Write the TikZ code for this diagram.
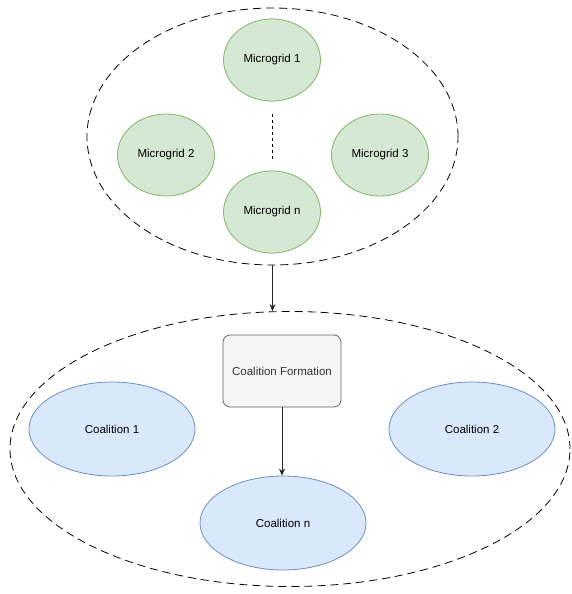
\documentclass[tikz,border=0pt]{standalone}
\usepackage{fontspec}
\setmainfont{Liberation Sans}
\usetikzlibrary{arrows.meta,shapes.geometric}
\definecolor{mgfill}{HTML}{D5E8D4}
\definecolor{mgdraw}{HTML}{82B366}
\definecolor{cofill}{HTML}{DAE8FC}
\definecolor{codraw}{HTML}{6C8EBF}
\definecolor{bxfill}{HTML}{F5F5F5}
\definecolor{bxdraw}{HTML}{666666}
\definecolor{bxtext}{HTML}{333333}
\tikzset{
  lbl/.style={font=\fontsize{11.5}{13}\selectfont},
  mg/.style={ellipse, draw=mgdraw, fill=mgfill, line width=0.8pt, minimum width=97pt, minimum height=82pt, inner sep=0pt, lbl},
  co/.style={ellipse, draw=codraw, fill=cofill, line width=0.8pt, minimum width=166pt, minimum height=94pt, inner sep=0pt, lbl},
  bx/.style={rectangle, rounded corners=7pt, draw=bxdraw, fill=bxfill, text=bxtext, line width=0.8pt, minimum width=118pt, minimum height=72pt, inner sep=0pt, lbl},
  grp/.style={ellipse, draw=black, line width=0.8pt, dash pattern=on 8pt off 5pt, inner sep=0pt},
  arr/.style={-{Stealth[length=7pt,width=6pt]}, line width=0.8pt, draw=black!85}
}
\begin{document}
\begin{tikzpicture}[x=1pt,y=-1pt]
\useasboundingbox (0,0) rectangle (571,594);
\node[grp, minimum width=371pt, minimum height=257pt] (top) at (272.5,136.5) {};
\node[grp, minimum width=560pt, minimum height=275pt] (bot) at (290,449) {};
\node[mg] (m1) at (272,60) {Microgrid 1};
\node[mg] (m2) at (166,155) {Microgrid 2};
\node[mg] (m3) at (380,155) {Microgrid 3};
\node[mg] (mn) at (272,212) {Microgrid n};
\coordinate (d1) at (272,114);
\coordinate (d2) at (272,161);
\draw[line width=0.8pt, dash pattern=on 3pt off 3pt] (d1) -- (d2);
\node[bx] (cf) at (282,371) {Coalition Formation};
\node[co] (c1) at (112,429) {Coalition 1};
\node[co] (c2) at (472,429) {Coalition 2};
\node[co] (cn) at (283,523) {Coalition n};
\draw[arr] (top.south) -- (top.south |- bot.north);
\draw[arr] (cf.south) -- (cf.south |- cn.north);
\end{tikzpicture}
\end{document}
